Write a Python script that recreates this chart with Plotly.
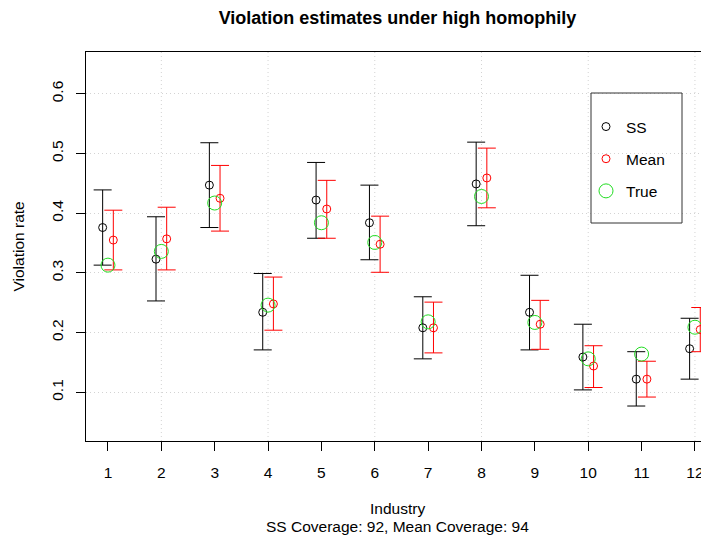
import plotly.graph_objects as go

industry = list(range(1, 13))
ss_est = [0.376, 0.323, 0.447, 0.234, 0.422, 0.384, 0.208, 0.449, 0.234, 0.159, 0.122, 0.173]
ss_lo = [0.313, 0.253, 0.376, 0.171, 0.358, 0.322, 0.156, 0.379, 0.171, 0.104, 0.077, 0.122]
ss_hi = [0.439, 0.394, 0.518, 0.299, 0.485, 0.447, 0.260, 0.519, 0.296, 0.214, 0.168, 0.224]
mean_est = [0.355, 0.357, 0.425, 0.248, 0.407, 0.348, 0.208, 0.459, 0.214, 0.144, 0.122, 0.205]
mean_lo = [0.305, 0.305, 0.370, 0.204, 0.358, 0.301, 0.166, 0.409, 0.172, 0.108, 0.092, 0.168]
mean_hi = [0.405, 0.410, 0.480, 0.293, 0.455, 0.395, 0.251, 0.509, 0.254, 0.178, 0.152, 0.242]
true_val = [0.313, 0.336, 0.417, 0.246, 0.384, 0.351, 0.218, 0.428, 0.217, 0.156, 0.164, 0.209]
y_ticks = [0.1, 0.2, 0.3, 0.4, 0.5, 0.6]
grid_x = [2, 4, 6, 8, 10, 12]
offset = 0.1

FONT = "Liberation Sans, Arial, Helvetica, sans-serif"
FS = 15.5
GREEN = "#22dd22"

# the page body has an 8px margin, so the figure is sized to the visible area
W, H = 701, 536

fig = go.Figure()

fig.add_trace(go.Scatter(
    x=[i - offset for i in industry], y=ss_est, mode="markers", name="SS",
    marker=dict(symbol="circle-open", size=8, color="black", line=dict(width=1, color="black")),
    error_y=dict(type="data", symmetric=False,
                 array=[h - e for h, e in zip(ss_hi, ss_est)],
                 arrayminus=[e - l for e, l in zip(ss_est, ss_lo)],
                 color="black", thickness=1, width=9),
    legendgroup="a", cliponaxis=False,
))
fig.add_trace(go.Scatter(
    x=[i + offset for i in industry], y=mean_est, mode="markers", name="Mean",
    marker=dict(symbol="circle-open", size=8, color="red", line=dict(width=1, color="red")),
    error_y=dict(type="data", symmetric=False,
                 array=[h - e for h, e in zip(mean_hi, mean_est)],
                 arrayminus=[e - l for e, l in zip(mean_est, mean_lo)],
                 color="red", thickness=1, width=9),
    legendgroup="b", cliponaxis=False,
))
fig.add_trace(go.Scatter(
    x=industry, y=true_val, mode="markers", name="True",
    marker=dict(symbol="circle-open", size=14, color=GREEN, line=dict(width=1, color=GREEN)),
    legendgroup="c", cliponaxis=False,
))

shapes = []
for gx in grid_x:
    shapes.append(dict(type="line", xref="x", yref="paper", x0=gx, x1=gx, y0=0, y1=1,
                       line=dict(color="#d3d3d3", width=1, dash="1px,3px"), layer="below"))
# legend frame
shapes.append(dict(type="rect", xref="paper", yref="paper",
                   x0=(591 - 86) / 623, x1=(682 - 86) / 623,
                   y0=(441 - 223) / 389, y1=(441 - 93) / 389,
                   line=dict(color="#333333", width=1), fillcolor="rgba(0,0,0,0)"))

fig.update_layout(
    width=W, height=H,
    margin=dict(l=78, r=0, t=44, b=103, autoexpand=False),
    paper_bgcolor="white", plot_bgcolor="white",
    font=dict(family=FONT, size=FS, color="black"),
    title=dict(text="<b>Violation estimates under high homophily</b>",
               x=0.5, xref="paper", xanchor="center",
               y=1 - 9.5 / H, yref="container", yanchor="middle",
               font=dict(size=18, family=FONT, color="black")),
    xaxis=dict(range=[0.588, 0.588 + 623 / 53.36], tickvals=industry,
               ticktext=[str(i) for i in industry],
               showgrid=False, zeroline=False, automargin=False,
               showline=True, linecolor="black", linewidth=1, mirror=True,
               ticks="outside", ticklen=9, tickcolor="black", tickwidth=1,
               ticklabelstandoff=8, tickfont=dict(size=FS)),
    yaxis=dict(range=[0.0184, 0.670], tickvals=y_ticks,
               ticktext=[str(v) for v in y_ticks],
               showgrid=True, gridcolor="#d3d3d3", griddash="1px,3px", gridwidth=1,
               zeroline=False, automargin=False,
               showline=True, linecolor="black", linewidth=1, mirror=False,
               ticks="outside", ticklen=9, tickcolor="black", tickwidth=1,
               ticklabelstandoff=7, tickangle=-90, tickfont=dict(size=FS)),
    showlegend=True,
    legend=dict(x=(586 - 86) / 623, y=(441 - 110) / 389, xanchor="left", yanchor="top",
                bgcolor="rgba(0,0,0,0)", borderwidth=0,
                traceorder="grouped", tracegroupgap=9,
                itemsizing="trace", font=dict(size=FS)),
    shapes=shapes,
    annotations=[
        dict(text="Industry", xref="paper", yref="paper", x=0.5, y=0,
             xanchor="center", yanchor="middle", yshift=-67, showarrow=False,
             font=dict(size=FS)),
        dict(text="SS Coverage: 92, Mean Coverage: 94", xref="paper", yref="paper",
             x=0.5, y=0, xanchor="center", yanchor="middle", yshift=-85,
             showarrow=False, font=dict(size=FS)),
        dict(text="Violation rate", xref="paper", yref="paper", x=0, y=0.5,
             xanchor="center", yanchor="middle", xshift=-68, textangle=-90,
             showarrow=False, font=dict(size=FS)),
    ],
)

fig.write_html("out.html")
